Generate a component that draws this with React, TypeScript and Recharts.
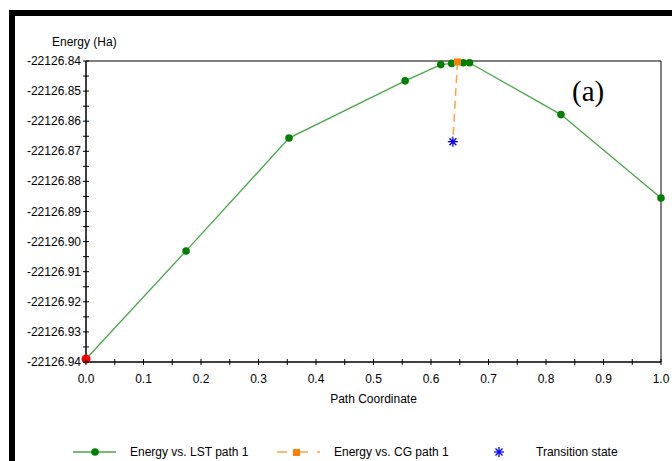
import React from 'react';
import {
  ComposedChart,
  Line,
  Scatter,
  XAxis,
  YAxis,
  ReferenceArea,
} from 'recharts';

// LST path (path coordinate, energy in Ha)
const lstX = [0.0, 0.174, 0.353, 0.555, 0.617, 0.636, 0.656, 0.667, 0.826, 1.0];
const lstY = [
  -22126.939, -22126.9031, -22126.8656, -22126.8466, -22126.8412,
  -22126.8408, -22126.8406, -22126.8406, -22126.8578, -22126.8855,
];

// CG path
const cgX = [0.646, 0.638];
const cgY = [-22126.8403, -22126.8668];

// transition state
const tsX = [0.638];
const tsY = [-22126.8668];

const xMajor = [0, 0.1, 0.2, 0.3, 0.4, 0.5, 0.6, 0.7, 0.8, 0.9, 1.0];
const yMajor = [
  -22126.84, -22126.85, -22126.86, -22126.87, -22126.88, -22126.89,
  -22126.9, -22126.91, -22126.92, -22126.93, -22126.94,
];

const FONT = '"Liberation Sans", Arial, sans-serif';
const GREEN_LINE = '#45a845';
const GREEN_DOT = '#008000';
const ORANGE = '#ffa04a';
const ORANGE_MARK = '#ff8000';
const BLUE = '#0000ff';

const lstData = lstX.map((x, i) => ({ x, y: lstY[i] }));
const cgData = cgX.map((x, i) => ({ x, y: cgY[i] }));
const tsData = tsX.map((x, i) => ({ x, y: tsY[i] }));

// major ticks plus the minor ones halfway between
const withMinor = (arr: number[]) => {
  const out: number[] = [];
  arr.forEach((v, i) => {
    out.push(v);
    if (i < arr.length - 1) out.push((v + arr[i + 1]) / 2);
  });
  return out;
};
const xTicks = withMinor(xMajor);
const yTicks = withMinor(yMajor);

const isMajor = (arr: number[], v: number) => arr.some((m) => Math.abs(m - v) < 1e-7);

const XTick = (props: any) => {
  const { x, y, payload } = props;
  const v = payload.value;
  return (
    <g>
      <line x1={x} x2={x} y1={y - 3} y2={y + 3} stroke="#000" />
      {isMajor(xMajor, v) && (
        <text x={x} y={y + 17} textAnchor="middle" dominantBaseline="central"
          fontFamily={FONT} fontSize={12} fill="#000">
          {v.toFixed(1)}
        </text>
      )}
    </g>
  );
};

const YTick = (props: any) => {
  const { x, y, payload } = props;
  const v = payload.value;
  return (
    <g>
      <line x1={x - 3} x2={x + 3} y1={y} y2={y} stroke="#000" />
      {isMajor(yMajor, v) && (
        <text x={x - 5} y={y} textAnchor="end" dominantBaseline="central"
          fontFamily={FONT} fontSize={12} fill="#000">
          {v.toFixed(2)}
        </text>
      )}
    </g>
  );
};

const LstDot = (props: any) => {
  const { cx, cy, index } = props;
  if (index === 0) return <circle key={index} cx={cx} cy={cy} r={4.5} fill="#ff0000" />;
  return <circle key={index} cx={cx} cy={cy} r={3.8} fill={GREEN_DOT} />;
};

const CgDot = (props: any) => {
  const { cx, cy, index } = props;
  if (index === 0)
    return <rect key={index} x={cx - 3.5} y={cy - 3.5} width={7} height={7} fill={ORANGE_MARK} />;
  return <rect key={index} x={cx - 2} y={cy - 2} width={4} height={4} fill={ORANGE_MARK} />;
};

const Star = ({ cx, cy }: { cx: number; cy: number }) => (
  <g stroke={BLUE} strokeWidth={1.3}>
    <line x1={cx - 5} x2={cx + 5} y1={cy} y2={cy} />
    <line x1={cx} x2={cx} y1={cy - 5} y2={cy + 5} />
    <line x1={cx - 3.5} x2={cx + 3.5} y1={cy - 3.5} y2={cy + 3.5} />
    <line x1={cx - 3.5} x2={cx + 3.5} y1={cy + 3.5} y2={cy - 3.5} />
  </g>
);

const TsShape = (props: any) => <Star cx={props.cx} cy={props.cy} />;

const txt: React.CSSProperties = {
  position: 'absolute',
  fontFamily: FONT,
  fontSize: 12,
  color: '#000',
  whiteSpace: 'nowrap',
  lineHeight: '14px',
};

export default function App() {
  return (
    <div style={{ position: 'fixed', left: 0, top: 0, width: 672, height: 461, overflow: 'hidden', background: '#fff' }}>
      {/* black frame, cut off at right and bottom */}
      <div style={{
        position: 'absolute', left: 9, top: 10, width: 800, height: 600,
        borderLeft: '6px solid #000', borderTop: '6px solid #000',
      }} />
      <div style={{ position: 'absolute', left: 0, top: 0 }}>
        <ComposedChart width={672} height={461} margin={{ top: 61, right: 11, left: 0, bottom: 69 }}>
          <XAxis
            type="number"
            dataKey="x"
            domain={[0, 1]}
            ticks={xTicks}
            interval={0}
            tick={<XTick />}
            tickLine={false}
            tickSize={0}
            tickMargin={0}
            height={30}
            axisLine={{ stroke: '#000' }}
          />
          <YAxis
            type="number"
            dataKey="y"
            domain={[-22126.94, -22126.84]}
            ticks={yTicks}
            interval={0}
            tick={<YTick />}
            tickLine={false}
            tickSize={0}
            tickMargin={0}
            width={86}
            axisLine={{ stroke: '#000' }}
          />
          <ReferenceArea x1={0} x2={1} y1={-22126.94} y2={-22126.84} fill="none" stroke="#000" strokeWidth={1} ifOverflow="visible" />
          <Line
            data={lstData}
            dataKey="y"
            type="linear"
            stroke={GREEN_LINE}
            strokeWidth={1.3}
            dot={<LstDot />}
            activeDot={false}
            isAnimationActive={false}
          />
          <Line
            data={cgData}
            dataKey="y"
            type="linear"
            stroke={ORANGE}
            strokeWidth={1.5}
            strokeDasharray="8 5"
            dot={<CgDot />}
            activeDot={false}
            isAnimationActive={false}
          />
          <Scatter data={tsData} dataKey="y" shape={<TsShape />} isAnimationActive={false} />
        </ComposedChart>
      </div>

      <div style={{ ...txt, left: 52, top: 35 }}>Energy (Ha)</div>
      <div style={{ ...txt, left: 0, width: 747, textAlign: 'center', top: 392 }}>Path Coordinate</div>
      <div style={{ ...txt, left: 572, top: 76, fontFamily: '"Liberation Serif", "Times New Roman", serif', fontSize: 29, lineHeight: '30px' }}>(a)</div>

      {/* legend */}
      <svg style={{ position: 'absolute', left: 0, top: 442 }} width={672} height={19}>
        <line x1={73} x2={116} y1={10} y2={10} stroke={GREEN_LINE} strokeWidth={1.5} />
        <circle cx={95} cy={10} r={3.8} fill={GREEN_DOT} />
        <text x={130} y={10} dominantBaseline="central" fontFamily={FONT} fontSize={12} fill="#000">Energy vs. LST path 1</text>

        <line x1={277} x2={287} y1={10} y2={10} stroke={ORANGE} strokeWidth={1.5} />
        <rect x={293} y={7} width={7} height={7} fill={ORANGE_MARK} />
        <line x1={300} x2={308} y1={10} y2={10} stroke={ORANGE} strokeWidth={1.5} />
        <line x1={317} x2={320} y1={10} y2={10} stroke={ORANGE} strokeWidth={1.5} />
        <text x={334} y={10} dominantBaseline="central" fontFamily={FONT} fontSize={12} fill="#000">Energy vs. CG path 1</text>

        <Star cx={499} cy={10} />
        <text x={536} y={10} dominantBaseline="central" fontFamily={FONT} fontSize={12} fill="#000">Transition state</text>
      </svg>
    </div>
  );
}
